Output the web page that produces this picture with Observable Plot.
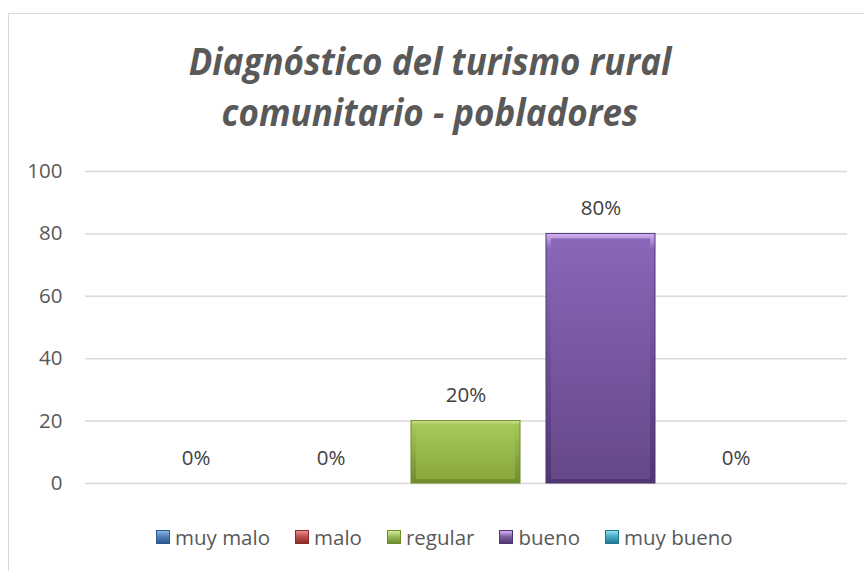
<!DOCTYPE html>
<html><head><meta charset="utf-8">
<script src="https://cdn.jsdelivr.net/npm/d3@7"></script>
<script src="https://cdn.jsdelivr.net/npm/@observablehq/plot@0.6"></script>
<style>
html,body{margin:0;padding:0;background:#fff;}
#wrap{position:relative;width:864px;height:571px;overflow:hidden;font-family:"Open Sans",sans-serif;color:#595959;}
#frame{position:absolute;left:8px;top:13px;width:900px;height:600px;border-top:1.5px solid #d9d9d9;border-left:1.5px solid #d9d9d9;box-sizing:border-box;}
#title{position:absolute;left:0;top:35px;width:860px;text-align:center;font-weight:700;font-style:italic;font-size:38px;line-height:51px;color:#595959;transform:scaleX(0.92);transform-origin:430px 0;}
#chart{position:absolute;left:0;top:150px;}
#legend{position:absolute;left:156px;top:525px;display:flex;align-items:center;font-size:20.5px;line-height:24px;color:#595959;white-space:nowrap;}
#legend .item{display:flex;align-items:center;margin-right:25px;}
#legend .sw{width:14px;height:14px;margin-right:5px;box-sizing:border-box;}
</style>
</head><body>
<div id="wrap">
  <div id="frame"></div>
  <div id="title"></div>
  <div id="chart"></div>
  <div id="legend"></div>
</div>
<script>
const categories = ["muy malo", "malo", "regular", "bueno", "muy bueno"];
const values = [0, 0, 20, 80, 0];
const labels = ["0%", "0%", "20%", "80%", "0%"];
const yTicks = [0, 20, 40, 60, 80, 100];
const titleLines = ["Diagnóstico del turismo rural", "comunitario - pobladores"];
const colors = ["#4f81bd", "#c0504d", "#9bbb59", "#8064a2", "#4bacc6"];

// gradient shades per series: [edgeTop, edgeBottom, faceTop, faceBottom]
const shades = [
  ["#8fb4e3", "#2c5a8c", "#5a8dcc", "#3d6ba3"],
  ["#e8908d", "#8c2c29", "#cf5a57", "#a63e3b"],
  ["#d6ec96", "#6f8c2c", "#a6c85a", "#88a83c"],
  ["#d2b2f2", "#4f3672", "#8a66b8", "#654889"],
  ["#94dcee", "#23788f", "#56b8d2", "#3b96ae"]
];

document.getElementById("title").innerHTML = titleLines.map(t => `<div>${t}</div>`).join("");

const data = categories.map((c, i) => ({cat: c, value: values[i], label: labels[i], idx: i}));
const nonZero = data.filter(d => d.value > 0);

const chart = Plot.plot({
  width: 864,
  height: 350,
  marginLeft: 85,
  marginRight: 17,
  marginTop: 21,
  marginBottom: 17,
  style: {fontFamily: "'Open Sans', sans-serif", fontSize: "20px", color: "#595959", background: "transparent", overflow: "visible"},
  x: {domain: categories, paddingInner: 0.19, paddingOuter: 0.40, axis: null},
  y: {domain: [0, 100], axis: null},
  marks: [
    Plot.ruleY(yTicks, {stroke: "#d9d9d9", strokeWidth: 1.5}),
    Plot.axisY(yTicks, {tickSize: 0, tickPadding: 23, label: null, fontSize: 20.5, fill: "#595959"}),
    ...nonZero.map(d => Plot.barY([d], {x: "cat", y: "value", fill: `url(#edge${d.idx})`, stroke: shades[d.idx][1], strokeWidth: 1})),
    ...nonZero.map(d => Plot.barY([d], {x: "cat", y: "value", fill: `url(#face${d.idx})`, insetLeft: 5, insetRight: 5, insetTop: 5, insetBottom: 4})),
    Plot.text(data, {x: "cat", y: "value", text: "label", dy: -19, lineAnchor: "bottom", fill: "#404040", fontSize: 20.5})
  ]
});

const defs = d3.select(chart).insert("defs", ":first-child");
shades.forEach((s, i) => {
  const e = defs.append("linearGradient").attr("id", `edge${i}`).attr("x1", 0).attr("y1", 0).attr("x2", 0).attr("y2", 1);
  e.append("stop").attr("offset", "0").attr("stop-color", s[0]);
  e.append("stop").attr("offset", "0.06").attr("stop-color", s[2]);
  e.append("stop").attr("offset", "1").attr("stop-color", s[1]);
  const f = defs.append("linearGradient").attr("id", `face${i}`).attr("x1", 0).attr("y1", 0).attr("x2", 0).attr("y2", 1);
  f.append("stop").attr("offset", "0").attr("stop-color", s[2]);
  f.append("stop").attr("offset", "1").attr("stop-color", s[3]);
});

document.getElementById("chart").appendChild(chart);

const legend = document.getElementById("legend");
categories.forEach((c, i) => {
  const s = shades[i];
  const item = document.createElement("div");
  item.className = "item";
  item.innerHTML = `<div class="sw" style="background:linear-gradient(to bottom, ${s[0]} 0%, ${colors[i]} 45%, ${s[1]} 100%);border:1px solid ${s[1]}"></div><span>${c}</span>`;
  legend.appendChild(item);
});
</script>
</body></html>
